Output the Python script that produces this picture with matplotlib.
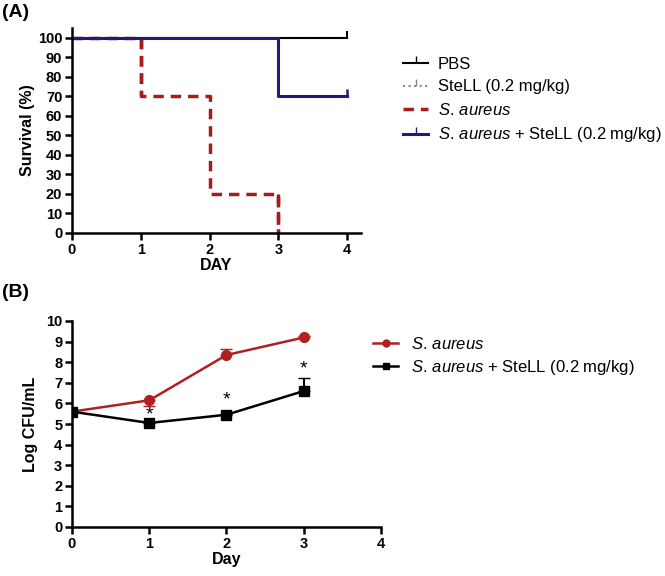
import matplotlib
matplotlib.use("Agg")
import matplotlib.pyplot as plt
from matplotlib.lines import Line2D

plt.rcParams['font.family'] = ['Liberation Sans', 'DejaVu Sans']
plt.rcParams['mathtext.fontset'] = 'custom'
plt.rcParams['mathtext.it'] = 'Liberation Sans:italic'
plt.rcParams['mathtext.rm'] = 'Liberation Sans'

SA = "$\\mathit{S.\\,aureus}$"

# ---------- data (A) survival ----------
surv_days = [0, 1, 2, 3, 4]
pbs = [100, 100, 100, 100, 100]
stell = [100, 100, 100, 100, 100]
saureus = [100, 70, 20, 0]
saureus_stell = [100, 100, 100, 70, 70]
surv_labels = ["PBS", "SteLL (0.2 mg/kg)", SA, SA + " + SteLL (0.2 mg/kg)"]

# ---------- data (B) bacterial load ----------
cfu_days = [0, 1, 2, 3]
cfu_sa = [5.6, 6.15, 8.35, 9.2]
cfu_sa_lo = [0.0, 0.3, 0.0, 0.0]
cfu_sa_hi = [0.0, 0.0, 0.3, 0.05]
cfu_sa_stell = [5.6, 5.05, 5.45, 6.6]
cfu_sa_stell_hi = [0.0, 0.05, 0.05, 0.62]
star_y = [5.45, 6.15, 7.65]
cfu_labels = [SA, SA + " + SteLL (0.2 mg/kg)"]

RED = "#a51c1c"
RED_B = "#b02020"
NAVY = "#1c1c80"
W, H = 665, 576

fig = plt.figure(figsize=(W / 100, H / 100), dpi=100)


def style_axes(ax):
    for side in ("top", "right"):
        ax.spines[side].set_visible(False)
    for side in ("left", "bottom"):
        ax.spines[side].set_linewidth(1.8)
    ax.tick_params(width=1.8, length=5, labelsize=10.5, pad=2)
    for lab in ax.get_xticklabels() + ax.get_yticklabels():
        lab.set_fontweight("bold")


# ---------- panel A ----------
axA = fig.add_axes([72 / W, 1 - 233 / H, 289 / W, 205 / H])
axA.step(surv_days, stell, where="post", color="#888888", lw=1.5, ls=":")
axA.step(surv_days, pbs, where="post", color="black", lw=1.5)
axA.step(surv_days[:4], saureus, where="post", color=RED, lw=2.5,
         dashes=(3, 2))
axA.plot([1, 1], [100, 70], color=RED, lw=2.5, dashes=(3, 2))
axA.plot([3, 3], [20, 0], color=RED, lw=2.5, dashes=(3, 2))
axA.step(surv_days, saureus_stell, where="post", color=NAVY, lw=2.2)
axA.plot([4], [100], marker=2, ms=5, mew=1.5, color="black")
axA.plot([4], [70], marker=2, ms=5, mew=1.8, color=NAVY)
axA.set_xlim(0, 4.2)
axA.set_ylim(0, 105)
axA.set_xticks([0, 1, 2, 3, 4])
axA.set_yticks(range(0, 101, 10))
style_axes(axA)
axA.set_xlabel("DAY", fontsize=11.5, fontweight="bold", labelpad=1)
axA.set_ylabel("Survival (%)", fontsize=11.5, fontweight="bold", labelpad=2)

handlesA = [
    Line2D([], [], color="black", lw=1.5, marker=2, ms=5),
    Line2D([], [], color="#888888", lw=1.5, ls=":", marker=2, ms=5),
    Line2D([], [], color=RED, lw=2.5, dashes=(3, 2)),
    Line2D([], [], color=NAVY, lw=2.2, marker=2, ms=5),
]
fig.legend(handlesA, surv_labels, loc="upper left",
           bbox_to_anchor=(403 / W, 1 - 57 / H), frameon=False,
           borderpad=0, borderaxespad=0, numpoints=1,
           fontsize=12, handlelength=1.5, handletextpad=0.6,
           labelspacing=0.45)

# ---------- panel B ----------
axB = fig.add_axes([72 / W, 1 - 527 / H, 309 / W, 206 / H])
axB.errorbar(cfu_days, cfu_sa, yerr=[cfu_sa_lo, cfu_sa_hi],
             color=RED_B, lw=1.8, marker="o", ms=7, capsize=4, elinewidth=1.2)
axB.errorbar(cfu_days, cfu_sa_stell,
             yerr=[[0] * 4, cfu_sa_stell_hi],
             color="black", lw=1.8, marker="s", ms=7, capsize=4, elinewidth=1.5)
for d, y in zip(cfu_days[1:], star_y):
    axB.text(d, y, "*", ha="center", va="center", fontsize=14)
axB.set_xlim(0, 4)
axB.set_ylim(0, 10)
axB.set_xticks([0, 1, 2, 3, 4])
axB.set_yticks(range(0, 11))
style_axes(axB)
axB.set_xlabel("Day", fontsize=11.5, fontweight="bold", labelpad=1)
axB.set_ylabel("Log CFU/mL", fontsize=11.5, fontweight="bold", labelpad=6)

handlesB = [
    Line2D([], [], color=RED_B, lw=1.8, marker="o", ms=5),
    Line2D([], [], color="black", lw=1.8, marker="s", ms=5),
]
fig.legend(handlesB, cfu_labels, loc="upper left",
           bbox_to_anchor=(373 / W, 1 - 336 / H), frameon=False,
           borderpad=0, borderaxespad=0, numpoints=1,
           fontsize=12, handlelength=1.5, handletextpad=0.8,
           labelspacing=0.35)

fig.text(2 / W, 1 - 4 / H, "(A)", fontsize=14, fontweight="bold", va="top")
fig.text(2 / W, 1 - 284 / H, "(B)", fontsize=14, fontweight="bold", va="top")

fig.savefig("out.png", dpi=100)
